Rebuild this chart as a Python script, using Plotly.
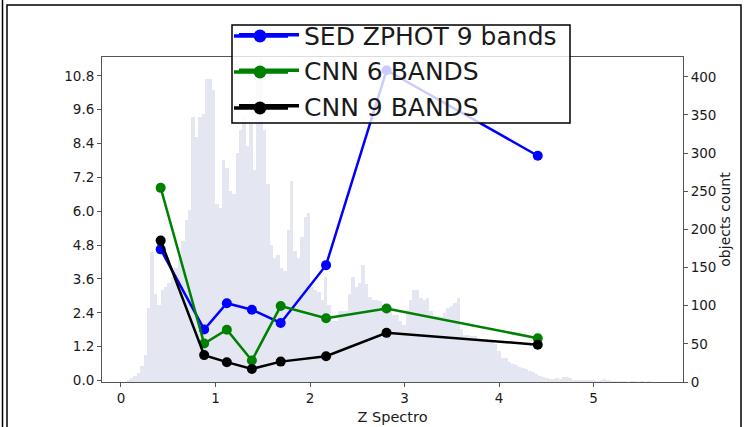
import plotly.graph_objects as go

# ---------------- data ----------------
z_points = [0.42, 0.88, 1.12, 1.385, 1.69, 2.17, 2.81, 4.41]
sed_zphot_9 = [4.65, 1.81, 2.74, 2.51, 2.04, 4.09, 11.0, 7.97]
cnn_6_bands = [6.83, 1.31, 1.80, 0.71, 2.64, 2.21, 2.55, 1.50]
cnn_9_bands = [4.96, 0.90, 0.65, 0.41, 0.67, 0.86, 1.69, 1.27]

hist_start = 0.06
hist_bin_width = 0.036
hist_counts = [
    3, 5, 8, 12, 21, 35, 97, 170, 115, 101,
    120, 124, 130, 137, 150, 160, 185, 212, 225, 347,
    321, 347, 351, 397, 397, 383, 233, 228, 291, 281,
    251, 246, 300, 330, 347, 310, 338, 278, 400, 425,
    330, 259, 180, 163, 167, 150, 146, 199, 264, 172,
    163, 190, 216, 222, 125, 120, 118, 107, 137, 101,
    80, 80, 93, 93, 93, 115, 137, 124, 130, 153,
    128, 111, 108, 108, 106, 101, 101, 98, 88, 88,
    80, 75, 95, 107, 120, 121, 110, 107, 110, 93,
    87, 87, 85, 90, 97, 100, 104, 110, 70, 62,
    62, 60, 60, 55, 54, 54, 53, 53, 50, 40,
    32, 32, 26, 24, 22, 20, 18, 17, 14, 13,
    10, 8, 6, 5, 4, 4, 5, 4, 6, 6,
    5, 3, 2, 2, 2, 2, 2, 2, 1, 2,
    4, 3, 1, 1, 1, 1, 1, 0, 1, 1,
    0, 1, 0, 1,
]
hist_centers = [hist_start + hist_bin_width * (i + 0.5) for i in range(len(hist_counts))]

left_ticks = [0.0, 1.2, 2.4, 3.6, 4.8, 6.0, 7.2, 8.4, 9.6, 10.8]
right_ticks = [0, 50, 100, 150, 200, 250, 300, 350, 400]
x_ticks = [0, 1, 2, 3, 4, 5]

series = [
    ("SED ZPHOT 9 bands", sed_zphot_9, "rgb(0,0,255)"),
    ("CNN 6 BANDS", cnn_6_bands, "rgb(0,128,0)"),
    ("CNN 9 BANDS", cnn_9_bands, "rgb(0,0,0)"),
]

# ---------------- figure ----------------
W, H = 745, 427
L, R, T, B = 102, 683, 57, 382
FONT = "DejaVu Sans"
TXT = "#1a1a1a"
AX = "#555555"

fig = go.Figure()

fig.add_trace(go.Bar(
    x=hist_centers, y=hist_counts, width=hist_bin_width,
    marker=dict(color="rgb(228,231,241)", line=dict(width=0)),
    yaxis="y", showlegend=False, hoverinfo="skip",
))

for name, vals, col in series:
    fig.add_trace(go.Scatter(
        x=z_points, y=vals, name=name, mode="lines+markers",
        line=dict(color=col, width=2.5),
        marker=dict(color=col, size=10),
        yaxis="y2", showlegend=False,
    ))
# legend entries (handles are drawn matplotlib-style below)
for name, vals, col in series:
    fig.add_trace(go.Scatter(
        x=[None], y=[None], name=name, mode="lines",
        line=dict(color=col, width=3.5), yaxis="y2", showlegend=True,
    ))

def px_x(p):
    return (p - L) / (R - L)

def px_y(p):
    return (B - p) / (B - T)

shapes = [
    dict(type="rect", xref="paper", yref="paper",
         x0=px_x(7), x1=px_x(741), y0=px_y(440), y1=px_y(5),
         line=dict(color="black", width=1.5), layer="above"),
    dict(type="line", xref="paper", yref="paper",
         x0=px_x(2.5), x1=px_x(2.5), y0=px_y(440), y1=px_y(0),
         line=dict(color="black", width=1.5), layer="above"),
    # legend frame (matplotlib style, semi-transparent white)
    dict(type="rect", xref="paper", yref="paper",
         x0=px_x(232), x1=px_x(570), y0=px_y(123), y1=px_y(25),
         fillcolor="rgba(255,255,255,0.8)",
         line=dict(color="black", width=1.5), layer="above"),
]
for (name, vals, col), ry in zip(series, [36, 72, 108]):
    shapes.append(dict(type="line", xref="paper", yref="paper",
                       x0=px_x(234), x1=px_x(288), y0=px_y(ry), y1=px_y(ry),
                       line=dict(color=col, width=3.5), layer="above"))
    shapes.append(dict(type="circle", xref="paper", yref="paper",
                       x0=px_x(253.5), x1=px_x(266.5), y0=px_y(ry + 6.5), y1=px_y(ry - 6.5),
                       fillcolor=col, line=dict(color=col, width=0), layer="above"))

fig.update_layout(
    width=W, height=H,
    margin=dict(l=L, r=W - R, t=T, b=H - B, pad=0, autoexpand=False),
    paper_bgcolor="white", plot_bgcolor="white",
    font=dict(family=FONT, color=TXT, size=13.5),
    bargap=0,
    xaxis=dict(
        range=[-0.201, 5.947], tickvals=x_ticks, ticktext=[str(v) for v in x_ticks],
        ticks="outside", ticklen=4, tickcolor=AX, showgrid=False, zeroline=False,
        showline=True, linecolor=AX, linewidth=1, mirror=True, automargin=False,
        tickfont=dict(size=13.5, color=TXT),
        title=dict(text="Z Spectro", font=dict(size=14.5, color=TXT), standoff=6),
    ),
    yaxis=dict(
        side="right", range=[0, 426], tickvals=right_ticks,
        ticktext=[str(v) for v in right_ticks],
        ticks="outside", ticklen=4, tickcolor=AX, showgrid=False, zeroline=False,
        showline=True, linecolor=AX, linewidth=1, mirror=True, automargin=False,
        tickfont=dict(size=13.5, color=TXT),
        title=dict(text="objects count", font=dict(size=14, color=TXT), standoff=4),
    ),
    yaxis2=dict(
        side="left", overlaying="y", range=[-0.053, 11.47], tickvals=left_ticks,
        ticktext=["%.1f" % v for v in left_ticks],
        ticks="outside", ticklen=4, tickcolor=AX, showgrid=False, zeroline=False,
        showline=True, linecolor=AX, linewidth=1, automargin=False,
        tickfont=dict(size=13.5, color=TXT),
    ),
    legend=dict(
        x=px_x(234), y=px_y(12), xanchor="left", yanchor="top",
        bgcolor="rgba(0,0,0,0)", borderwidth=0,
        font=dict(size=25, color=TXT, family=FONT),
        itemwidth=60, tracegroupgap=0,
    ),
    shapes=shapes,
)

fig.write_html("out.html")
